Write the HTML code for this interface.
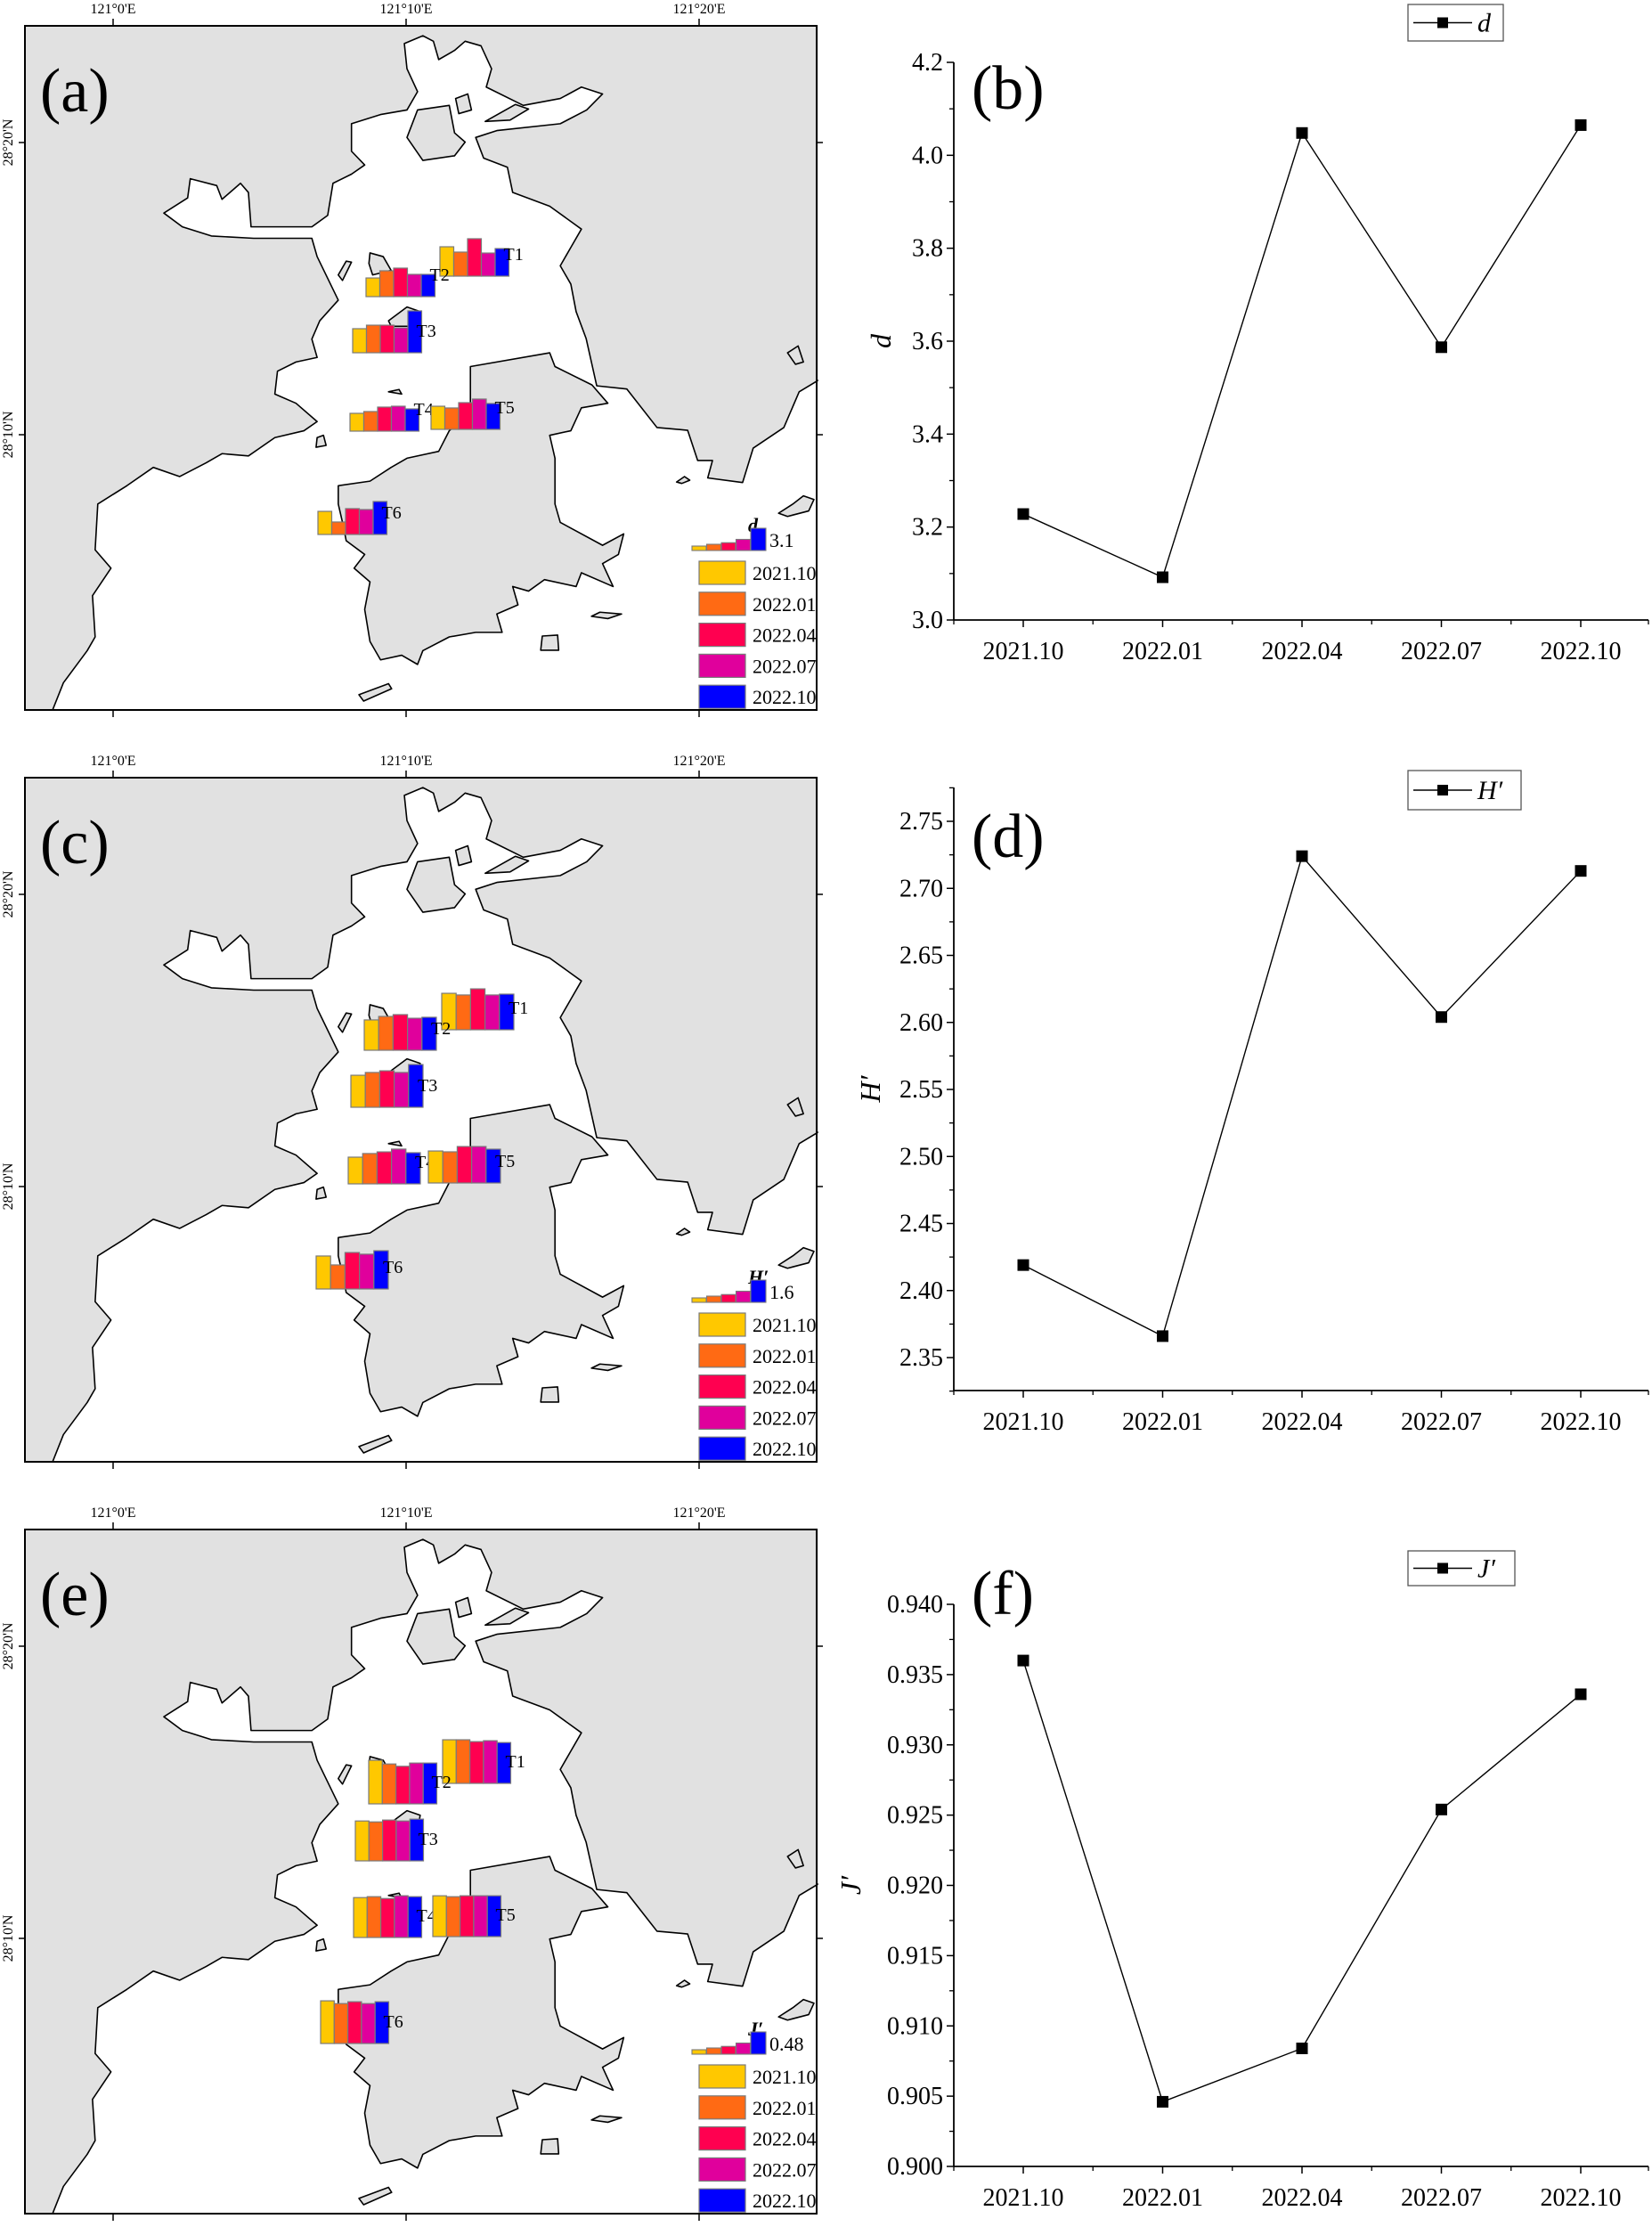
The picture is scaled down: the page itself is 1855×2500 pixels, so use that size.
<!DOCTYPE html>
<html><head><meta charset="utf-8"><title>Diversity indices maps and charts</title>
<style>
html,body{margin:0;padding:0;background:#fff;}
svg{display:block;font-family:"Liberation Serif","Times New Roman",serif;}
svg text{font-family:"Liberation Serif","Times New Roman",serif;fill:#000;}
</style></head>
<body>
<svg id="fig" width="1855" height="2500" viewBox="0 0 1855 2500" xmlns="http://www.w3.org/2000/svg" font-family="Liberation Serif, Times New Roman, serif">
<defs>
  <clipPath id="mapclip"><rect x="47" y="55" width="1501" height="1493"/></clipPath>
  <g id="mapbase">
    <rect x="47" y="55" width="1501" height="1493" fill="#e1e1e1"/>
    <g clip-path="url(#mapclip)" stroke="#000" stroke-width="1.6" stroke-linejoin="round">
      <polygon vector-effect="non-scaling-stroke" fill="#fff" points="100,1548 120,1490 165,1420 180,1390 175,1300 210,1240 180,1200 185,1100 240,1060 290,1020 340,1040 390,1010 420,990 470,995 520,955 575,940 600,920 560,880 520,860 525,810 560,790 600,780 590,740 605,700 640,655 600,560 590,520 480,520 400,515 345,495 310,465 355,432 360,390 410,405 420,435 455,400 470,420 475,495 590,495 620,470 630,400 665,380 690,360 665,330 665,270 720,250 770,240 790,200 770,150 765,95 800,78 820,90 830,130 860,110 880,90 910,100 930,150 920,190 990,230 1060,215 1100,190 1140,205 1110,240 1060,270 940,285 900,300 915,345 960,365 970,420 1040,450 1100,500 1080,540 1060,580 1080,620 1090,680 1109,739 1129,842 1186,849 1243,933 1301,939 1320,1005 1348,1005 1339,1043 1405,1053 1425,978 1483,933 1512,855 1548,830 1560,830 1560,1560 90,1560"/>
      <polygon vector-effect="non-scaling-stroke" fill="#e1e1e1" points="890,800 1040,770 1050,800 1120,840 1150,880 1100,890 1080,940 1040,950 1050,1000 1050,1100 1060,1140 1140,1190 1180,1165 1170,1210 1140,1230 1160,1280 1100,1250 1090,1280 1030,1265 1000,1290 970,1280 980,1320 940,1340 950,1380 900,1380 850,1390 800,1420 790,1450 760,1430 720,1440 700,1400 690,1330 700,1270 670,1240 690,1210 655,1180 650,1150 640,1100 640,1060 700,1050 740,1020 770,1000 830,985 850,940 890,900"/>
      <polygon vector-effect="non-scaling-stroke" fill="#e1e1e1" points="790,240 850,230 860,290 880,310 860,340 800,350 770,300"/>
      <polygon vector-effect="non-scaling-stroke" fill="#e1e1e1" points="862,215 885,205 892,240 868,248"/>
      <polygon vector-effect="non-scaling-stroke" fill="#e1e1e1" points="918,265 975,228 1000,238 965,262"/>
      <polygon vector-effect="non-scaling-stroke" fill="#e1e1e1" points="640,600 655,570 665,572 648,612"/>
      <polygon vector-effect="non-scaling-stroke" fill="#e1e1e1" points="700,552 725,560 740,590 705,600 698,575"/>
      <polygon vector-effect="non-scaling-stroke" fill="#e1e1e1" points="735,700 770,670 795,680 790,712 740,712"/>
      <polygon vector-effect="non-scaling-stroke" fill="#e1e1e1" points="598,976 600,955 612,950 617,972"/>
      <polygon vector-effect="non-scaling-stroke" fill="#e1e1e1" points="679,1516 735,1492 741,1503 688,1530"/>
      <polygon vector-effect="non-scaling-stroke" fill="#e1e1e1" points="1023,1419 1026,1388 1055,1386 1057,1419"/>
      <polygon vector-effect="non-scaling-stroke" fill="#e1e1e1" points="1119,1345 1135,1336 1176,1340 1150,1350"/>
      <polygon vector-effect="non-scaling-stroke" fill="#e1e1e1" points="1473,1120 1500,1100 1520,1082 1540,1090 1530,1115 1490,1127"/>
      <polygon vector-effect="non-scaling-stroke" fill="#e1e1e1" points="1280,1052 1295,1040 1305,1048 1290,1055"/>
      <polygon vector-effect="non-scaling-stroke" fill="#e1e1e1" points="1490,770 1510,755 1520,790 1505,795"/>
      <polygon vector-effect="non-scaling-stroke" fill="#e1e1e1" points="735,855 755,850 760,860"/>
    </g>
  </g>
</defs>
<g id="root"></g>
</svg>
<script>
// ===== line chart data =====
const categories = ["2021.10","2022.01","2022.04","2022.07","2022.10"];
const dValues = [3.228, 3.092, 4.048, 3.587, 4.065];
const hValues = [2.419, 2.366, 2.724, 2.604, 2.713];
const jValues = [0.936, 0.9046, 0.9084, 0.9254, 0.9336];
const dTicks = [3.0, 3.2, 3.4, 3.6, 3.8, 4.0, 4.2];
const hTicks = [2.35, 2.40, 2.45, 2.50, 2.55, 2.60, 2.65, 2.70, 2.75];
const jTicks = [0.900, 0.905, 0.910, 0.915, 0.920, 0.925, 0.930, 0.935, 0.940];
// ===== map bar data (station values per period) =====
const stations = ["T1","T2","T3","T4","T5","T6"];
const periodColors = ["#FFC800","#FF6A14","#FF0050","#E0009C","#0000FF"];
const mapDValues = [
  [4.09,3.35,5.21,3.22,3.84],
  [2.60,3.60,3.97,3.10,3.10],
  [3.35,3.84,3.84,3.47,5.83],
  [2.48,2.73,3.35,3.47,3.10],
  [3.22,2.98,3.72,4.22,3.60],
  [3.22,1.74,3.60,3.47,4.59]
];
const mapHValues = [
  [2.62,2.50,2.94,2.50,2.56],
  [2.18,2.43,2.56,2.30,2.37],
  [2.30,2.50,2.62,2.50,3.07],
  [1.92,2.18,2.30,2.50,2.24],
  [2.30,2.24,2.62,2.62,2.43],
  [2.37,1.73,2.62,2.50,2.75]
];
const mapJValues = [
  [0.94,0.94,0.90,0.92,0.88],
  [0.94,0.86,0.81,0.88,0.88],
  [0.86,0.84,0.88,0.86,0.90],
  [0.86,0.88,0.84,0.90,0.88],
  [0.88,0.86,0.88,0.88,0.88],
  [0.92,0.86,0.90,0.86,0.90]
];
const legendRefD = [3.1];
const legendRefH = [1.6];
const legendRefJ = [0.48];
const lonLabels = ["121°0'E","121°10'E","121°20'E"];
const latLabels = ["28°20'N","28°10'N"];

const NS = "http://www.w3.org/2000/svg";
const FF = "Liberation Serif, Times New Roman, serif";
const root = document.getElementById("root");
function mk(tag, attrs, parent, txt){
  const e = document.createElementNS(NS, tag);
  for (const k in attrs) e.setAttribute(k, attrs[k]);
  if (tag === "text") e.setAttribute("font-family", FF);
  if (txt !== undefined) e.textContent = txt;
  (parent || root).appendChild(e);
  return e;
}

// ---------- MAP PANELS ----------
const mapPanels = [
  {top:29, letter:"(a)", sym:"d", vals:mapDValues, ref:legendRefD[0], px:25, bw:15.5,
   st:[[494,310],[411,333],[396,396],[393,484],[484,482],[357,600]]},
  {top:873, letter:"(c)", sym:"H′", vals:mapHValues, ref:legendRefH[0], px:25, bw:16.2,
   st:[[496,1156],[409,1179],[394,1243],[391,1329],[481,1328],[355,1447]]},
  {top:1717, letter:"(e)", sym:"J′", vals:mapJValues, ref:legendRefJ[0], px:25, bw:15.3,
   st:[[497,2002],[414,2025],[399,2089],[397,2175],[486,2174],[360,2294]]}
];
const lonX = [127, 456, 785];
const latY = [131, 459];

mapPanels.forEach((p, pi) => {
  const g = mk("g", {});
  
  
  const base = mk("use", {href:"#mapbase", transform:`translate(0,${p.top-29}) scale(0.5935,0.5144)`}, g);
  
  
  const fr = mk("rect", {x:28, y:p.top, width:889, height:768, fill:"none", stroke:"#000", "stroke-width":2}, g);
  
  
  lonLabels.forEach((l, i) => {
    mk("line", {x1:lonX[i], x2:lonX[i], y1:p.top-8, y2:p.top, stroke:"#000", "stroke-width":1.5}, g);
    mk("line", {x1:lonX[i], x2:lonX[i], y1:p.top+768, y2:p.top+776, stroke:"#000", "stroke-width":1.5}, g);
    const t = mk("text", {x:lonX[i], y:p.top-14, "text-anchor":"middle", "font-size":16}, g, l);
    
    
  });
  latLabels.forEach((l, i) => {
    const y = p.top + latY[i];
    mk("line", {x1:21, x2:28, y1:y, y2:y, stroke:"#000", "stroke-width":1.5}, g);
    mk("line", {x1:917, x2:924, y1:y, y2:y, stroke:"#000", "stroke-width":1.5}, g);
    const t = mk("text", {x:0, y:0, "text-anchor":"middle", "font-size":16, transform:`translate(14,${y}) rotate(-90)`}, g, l);
    
    
  });
  const lt = mk("text", {x:45, y:p.top+96, "font-size":70}, g, p.letter);
  
  
  const scale = p.px / p.ref;
  stations.forEach((s, si) => {
    const [x0, yb] = p.st[si];
    const sg = mk("g", {}, g);
    
    
    p.vals[si].forEach((v, k) => {
      const h = v * scale;
      const r = mk("rect", {x:x0 + k*p.bw, y:yb - h, width:p.bw, height:h, fill:periodColors[k], stroke:"#7a7a7a", "stroke-width":1.2}, sg);
      
      
    });
    const t = mk("text", {x:x0 + 5*p.bw - 6, y:yb - 18, "font-size":20}, sg, s);
    
    
  });
  const lg = mk("g", {}, g);
  
  
  const rel = p.top - 29;
  const sym = mk("text", {x:840, y:rel+597, "font-size":22, "font-weight":"bold", "font-style":"italic"}, lg, p.sym);
  
  
  const lf = [0.2, 0.28, 0.35, 0.5, 1.0];
  lf.forEach((f, k) => {
    const h = p.ref * f * scale;
    const w = k === 4 ? 17 : 16;
    mk("rect", {x:777 + k*16.5, y:rel+618 - h, width:w, height:h, fill:periodColors[k], stroke:"#7a7a7a", "stroke-width":1.1}, lg);
  });
  const rv = mk("text", {x:864, y:rel+614, "font-size":22}, lg, String(p.ref));
  
  
  categories.forEach((c, k) => {
    const y = rel + 630 + k*34.8;
    const r = mk("rect", {x:785, y:y, width:52, height:26, fill:periodColors[k], stroke:"#7a7a7a", "stroke-width":1.2}, lg);
    
    
    const t = mk("text", {x:845, y:y+21, "font-size":22}, lg, c);
    
    
  });
});

// ---------- LINE CHARTS ----------
const charts = [
  {vals:dValues, ticks:dTicks, min:3.0, max:4.2, yTop:70, yBot:696, axTop:70, axBot:696, dec:1,
   letter:"(b)", ly:122, ylab:"d", ylx:1000, leg:[1581,5,107,41], legTxt:"d"},
  {vals:hValues, ticks:hTicks, min:2.35, max:2.75, yTop:922, yBot:1524, axTop:884, axBot:1561, dec:2,
   letter:"(d)", ly:962, ylab:"H′", ylx:988, leg:[1581,865,127,44], legTxt:"H′"},
  {vals:jValues, ticks:jTicks, min:0.900, max:0.940, yTop:1801, yBot:2432, axTop:1801, axBot:2432, dec:3,
   letter:"(f)", ly:1812, ylab:"J′", ylx:966, leg:[1581,1741,120,39], legTxt:"J′"}
];
const axX = 1071, axR = 1851, cat0 = 1149, catStep = 156.5;

charts.forEach((c, ci) => {
  const g = mk("g", {});
  
  
  const yS = v => c.yBot - (v - c.min) / (c.max - c.min) * (c.yBot - c.yTop);
  const xS = i => cat0 + i * catStep;
  const ya = mk("line", {x1:axX, x2:axX, y1:c.axTop, y2:c.axBot, stroke:"#000", "stroke-width":1.8}, g);
  
  
  const xa = mk("line", {x1:axX, x2:axR, y1:c.axBot, y2:c.axBot, stroke:"#000", "stroke-width":1.8}, g);
  
  
  const step = c.ticks[1] - c.ticks[0];
  c.ticks.forEach((t, i) => {
    const y = yS(t);
    mk("line", {x1:axX-8, x2:axX, y1:y, y2:y, stroke:"#000", "stroke-width":1.5}, g);
    if (i < c.ticks.length - 1) {
      const ym = yS(t + step/2);
      mk("line", {x1:axX-5, x2:axX, y1:ym, y2:ym, stroke:"#000", "stroke-width":1.3}, g);
    }
    const tl = mk("text", {x:axX-12, y:y+9, "text-anchor":"end", "font-size":28}, g, t.toFixed(c.dec));
    
    
  });
  if (c.axTop < c.yTop) {
    for (let v = c.max + step/2; yS(v) >= c.axTop - 1; v += step/2) {
      mk("line", {x1:axX-5, x2:axX, y1:yS(v), y2:yS(v), stroke:"#000", "stroke-width":1.3}, g);
    }
    for (let v = c.min - step/2; yS(v) <= c.axBot + 1; v -= step/2) {
      mk("line", {x1:axX-5, x2:axX, y1:yS(v), y2:yS(v), stroke:"#000", "stroke-width":1.3}, g);
    }
  }
  categories.forEach((cat, i) => {
    const x = xS(i);
    mk("line", {x1:x, x2:x, y1:c.axBot, y2:c.axBot+8, stroke:"#000", "stroke-width":1.5}, g);
    const tl = mk("text", {x:x, y:c.axBot+44, "text-anchor":"middle", "font-size":28}, g, cat);
    
    
  });
  for (let i = -1; i < categories.length; i++) {
    const x = xS(i) + catStep/2;
    if (x >= axX && x <= axR + 1) mk("line", {x1:x, x2:x, y1:c.axBot, y2:c.axBot+5, stroke:"#000", "stroke-width":1.3}, g);
  }
  mk("line", {x1:axX, x2:axX, y1:c.axBot, y2:c.axBot+5, stroke:"#000", "stroke-width":1.3}, g);
  mk("line", {x1:axR, x2:axR, y1:c.axBot, y2:c.axBot+5, stroke:"#000", "stroke-width":1.3}, g);
  const pts = c.vals.map((v, i) => xS(i) + "," + yS(v)).join(" ");
  const pl = mk("polyline", {points:pts, fill:"none", stroke:"#000", "stroke-width":1.4}, g);
  
  
  c.vals.forEach((v, i) => {
    const m = mk("rect", {x:xS(i)-6.5, y:yS(v)-6.5, width:13, height:13, fill:"#000"}, g);
    
    
  });
  const pl2 = mk("text", {x:1091, y:c.ly, "font-size":70}, g, c.letter);
  
  
  const yl = mk("text", {x:0, y:0, "text-anchor":"middle", "font-size":32, "font-style":"italic", transform:`translate(${c.ylx},${(c.axTop+c.axBot)/2}) rotate(-90)`}, g, c.ylab);
  
  
  const [lx, ly, lw, lh] = c.leg;
  const lg = mk("g", {}, g);
  
  
  mk("rect", {x:lx, y:ly, width:lw, height:lh, fill:"#fff", stroke:"#555", "stroke-width":1.3}, lg);
  mk("line", {x1:lx+6, x2:lx+72, y1:ly+lh/2, y2:ly+lh/2, stroke:"#000", "stroke-width":1.4}, lg);
  mk("rect", {x:lx+33, y:ly+lh/2-6, width:12, height:12, fill:"#000"}, lg);
  const lt = mk("text", {x:lx+78, y:ly+lh/2+10, "font-size":30, "font-style":"italic"}, lg, c.legTxt);
  
  
});
</script>
</body></html>
